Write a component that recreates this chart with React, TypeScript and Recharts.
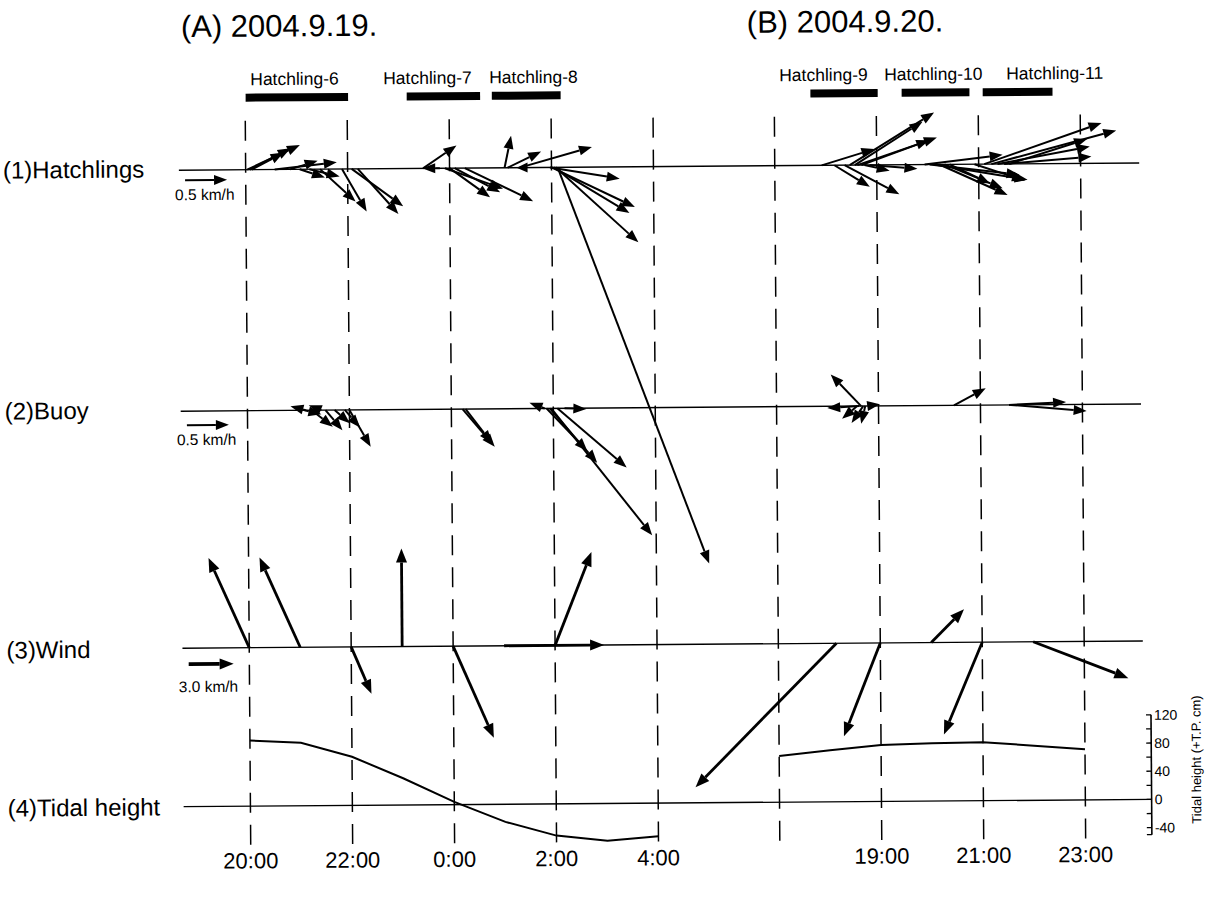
import { ComposedChart, Line, XAxis, YAxis, ReferenceLine, ReferenceArea } from "recharts";

const W = 1210;
const H = 903;
const FONT = '"Liberation Sans", Arial, Helvetica, sans-serif';

// shared time axis: hours after 20:00 on 9/19, panel (B) starts after a gap
const B_OFFSET = 10.38;
const X_MIN = -1.31;
const X_MAX = 17.68;
const LINE_END = 17.53;
const PX_PER_HOUR = 51;
const tA = (clock: number) => clock - 20;
const tB = (clock: number) => B_OFFSET + clock - 17;

// hidden vertical axis of the vector panels (1 unit = 1 px)
const Y_MAX = 735;
const HATCH_LEVEL = 675;
const BUOY_LEVEL = 434;
const WIND_LEVEL = 197;
const CURRENT_SCALE = 84; // px per km/h
const WIND_SCALE = 15;

type Vec = [number, number, number]; // [clock hour, east km/h, north km/h]

const HATCH_A: Vec[] = [
  [20.03, 0.63, 0.29], [20.08, 0.49, 0.25], [20.12, 0.38, 0.2], [20.57, 0.74, 0.08],
  [20.87, 0.33, 0.1], [21.06, 0.3, -0.1], [21.25, 0.36, -0.09], [21.46, 0.42, -0.39],
  [21.89, 0.29, -0.51], [22.08, 0.61, -0.45], [22.2, 0.48, -0.54],
  [23.48, 0.4, 0.27], [23.81, -0.21, 0], [23.91, 0.69, -0.25], [24.0, 0.48, -0.35],
  [24.1, 0.54, -0.29], [24.3, 0.81, -0.4],
  [25.08, 0.08, 0.38], [25.14, 0.4, 0.19], [25.38, 0.86, 0.24], [25.53, -0.13, 0],
  [25.97, 0.83, -0.14], [26.0, 0.99, -0.48], [26.04, 0.9, -0.55], [26.08, 0.98, -0.9],
  [26.12, 1.77, -4.73],
];
const HATCH_B: Vec[] = [
  [17.92, 0.63, 0.19], [18.17, 0.42, -0.26], [18.37, 0.65, -0.35], [18.47, 1.01, 0.62],
  [18.57, 0.81, 0.51], [18.62, 0.95, 0.32], [18.7, 0.81, 0.29], [18.76, 0.3, -0.07],
  [18.86, 0.57, -0.05],
  [19.94, 0.93, 0.11], [20.04, 1.07, -0.13], [20.13, 1.11, -0.19], [20.23, 0.81, -0.37],
  [20.33, 0.69, -0.29], [20.43, 0.48, -0.23], [20.92, 0.6, -0.2],
  [21.11, 1.4, 0.48], [21.25, 1.49, 0.39], [21.37, 1.1, 0.2], [21.5, 1.04, 0.08],
  [21.6, 0.93, 0.29],
];
const BUOY_A: Vec[] = [
  [21.12, 0.2, -0.05], [21.14, -0.18, 0.05], [21.26, 0.25, -0.2], [21.45, -0.15, 0.06],
  [21.53, 0.2, -0.24], [21.71, 0.18, -0.16], [21.91, 0.18, -0.21], [22.0, 0.25, -0.44],
  [24.22, 0.38, -0.45], [24.28, 0.31, -0.41],
  [25.83, -0.18, 0.07], [25.87, 0.48, -0.51], [25.93, 0.56, -0.65], [25.96, 1.19, -1.52],
  [26.08, 0.82, -0.71], [26.22, 0.26, -0.01],
];
const BUOY_B: Vec[] = [
  [18.58, -0.18, -0.15], [18.62, -0.38, -0.02], [18.66, -0.36, 0.38], [18.7, -0.14, -0.2],
  [18.74, -0.05, -0.21], [18.78, 0.15, 0.02],
  [20.48, 0.38, 0.2], [21.56, 0.68, 0.03], [21.6, 0.9, -0.08],
];
const WIND_A: Vec[] = [
  [20, -2.67, 6.0], [21, -2.67, 6.0], [22, 1.33, -3.13], [23, 0, 6.53],
  [24, 2.67, -6.13], [25, 6.67, 0], [26, 2.47, 6.2],
];
const WIND_B: Vec[] = [
  [18.14, -9.47, -9.53], [19, -2.47, -6.2], [20, 2.2, 2.2], [21, -2.6, -6.13], [22, 6.33, -2.47],
];

// tidal height (cm, T.P.)
const TIDE_A_CLOCK = [20, 21, 22, 23, 24, 25, 26, 27, 28];
const TIDE_A = [93, 89.5, 69, 38, 4, -25, -45, -53, -47];
const TIDE_B_CLOCK = [17, 18, 19, 20, 21, 22, 23];
const TIDE_B = [65.5, 73, 80, 82, 83, 77.5, 72];
const TIDE_TICKS = [-50, -40, -20, 0, 20, 40, 60, 80, 100, 120];
const TIDE_LABELLED = [-40, 0, 40, 80, 120];

// tracking periods
const BAR_NAMES_A = ["Hatchling-6", "Hatchling-7", "Hatchling-8"];
const BAR_FROM_A = [20.01, 23.17, 24.84];
const BAR_TO_A = [22.02, 24.61, 26.19];
const BAR_LABEL_X_A = [253, 386, 492];
const BAR_NAMES_B = ["Hatchling-9", "Hatchling-10", "Hatchling-11"];
const BAR_FROM_B = [17.71, 19.5, 21.09];
const BAR_TO_B = [19.03, 20.83, 22.46];
const BAR_LABEL_X_B = [782, 887, 1009];

const DASH_CLOCK_A = [20, 22, 24, 26, 28];
const DASH_CLOCK_B = [17, 19, 21, 23];
const TICK_CLOCK_A = [20, 22, 24, 26, 28];
const TICK_CLOCK_B = [19, 21, 23];
const TICK_LABELS = ["20:00", "22:00", "0:00", "2:00", "4:00", "19:00", "21:00", "23:00"];

const REF_T = -1.19;
const REF_CURRENT = 0.5;
const REF_WIND = 3.0;

const xTicks = [...TICK_CLOCK_A.map(tA), ...TICK_CLOCK_B.map(tB)];
const dashes = [...DASH_CLOCK_A.map(tA), ...DASH_CLOCK_B.map(tB)];

const seg = (t: number, level: number, e: number, n: number, scale: number) => [
  { x: t, y: level },
  { x: t + (e * scale) / PX_PER_HOUR, y: level + n * scale },
];

const arrowShape = (w: number, head: number, half: number) => (p: any) => {
  const { x1, y1, x2, y2 } = p;
  const dx = x2 - x1;
  const dy = y2 - y1;
  const len = Math.hypot(dx, dy) || 1;
  const ux = dx / len;
  const uy = dy / len;
  const hl = Math.min(head, len);
  const bx = x2 - ux * hl;
  const by = y2 - uy * hl;
  return (
    <g>
      <line x1={x1} y1={y1} x2={bx} y2={by} stroke="#000" strokeWidth={w} />
      <polygon
        points={`${x2},${y2} ${bx - uy * half},${by + ux * half} ${bx + uy * half},${by - ux * half}`}
        fill="#000"
      />
    </g>
  );
};

const currentArrow = arrowShape(2, 13, 5);
const windArrow = arrowShape(2.8, 14, 5.5);

const arrows = (list: Vec[], toT: (c: number) => number, level: number, scale: number, key: string, shape: any) =>
  list.map(([c, e, n], i) => (
    <ReferenceLine
      key={`${key}-${i}`}
      segment={seg(toT(c), level, e, n, scale)}
      ifOverflow="visible"
      shape={shape}
    />
  ));

const tideA = TIDE_A_CLOCK.map((c, i) => ({ x: tA(c), h: TIDE_A[i] }));
const tideB = TIDE_B_CLOCK.map((c, i) => ({ x: tB(c), h: TIDE_B[i] }));

const txt = { fontFamily: FONT, fill: "#000" };

export default function App() {
  return (
    <div
      style={{
        position: "absolute",
        left: 0,
        top: 0,
        width: W,
        height: H,
        background: "#fff",
        transform: "rotate(-0.43deg)",
      }}
    >
      <div style={{ position: "absolute", left: 0, top: 0 }}>
        <ComposedChart width={W} height={H} margin={{ top: 107, right: 61, bottom: 31, left: 181 }}>
          <XAxis
            type="number"
            dataKey="x"
            domain={[X_MIN, X_MAX]}
            allowDataOverflow
            ticks={xTicks}
            interval={0}
            tickFormatter={(v: number) => TICK_LABELS[xTicks.indexOf(v)] ?? ""}
            axisLine={false}
            tickLine={false}
            tickSize={0}
            tickMargin={8}
            height={30}
            tick={{ fontSize: 22, fill: "#000", fontFamily: FONT }}
          />
          <YAxis type="number" domain={[0, Y_MAX]} allowDataOverflow hide />

          {dashes.map((t, i) => (
            <ReferenceLine key={`d${i}`} x={t} stroke="#000" strokeWidth={1.5} strokeDasharray="20 12" />
          ))}

          {[HATCH_LEVEL, BUOY_LEVEL, WIND_LEVEL].map((lv) => (
            <ReferenceLine
              key={`b${lv}`}
              segment={[{ x: X_MIN, y: lv }, { x: LINE_END, y: lv }]}
              stroke="#000"
              strokeWidth={1.4}
            />
          ))}

          {BAR_NAMES_A.map((n, i) => (
            <ReferenceArea key={n} x1={tA(BAR_FROM_A[i])} x2={tA(BAR_TO_A[i])} y1={743} y2={751} fill="#000" fillOpacity={1} stroke="none" ifOverflow="visible" />
          ))}
          {BAR_NAMES_B.map((n, i) => (
            <ReferenceArea key={n} x1={tB(BAR_FROM_B[i])} x2={tB(BAR_TO_B[i])} y1={743} y2={751} fill="#000" fillOpacity={1} stroke="none" ifOverflow="visible" />
          ))}

          {arrows(HATCH_A, tA, HATCH_LEVEL, CURRENT_SCALE, "ha", currentArrow)}
          {arrows(HATCH_B, tB, HATCH_LEVEL, CURRENT_SCALE, "hb", currentArrow)}
          {arrows(BUOY_A, tA, BUOY_LEVEL, CURRENT_SCALE, "ba", currentArrow)}
          {arrows(BUOY_B, tB, BUOY_LEVEL, CURRENT_SCALE, "bb", currentArrow)}
          {arrows(WIND_A, tA, WIND_LEVEL, WIND_SCALE, "wa", windArrow)}
          {arrows(WIND_B, tB, WIND_LEVEL, WIND_SCALE, "wb", windArrow)}

          <ReferenceLine segment={seg(REF_T, HATCH_LEVEL - 10, REF_CURRENT, 0, CURRENT_SCALE)} ifOverflow="visible" shape={currentArrow} />
          <ReferenceLine segment={seg(REF_T, BUOY_LEVEL - 14, REF_CURRENT, 0, CURRENT_SCALE)} ifOverflow="visible" shape={currentArrow} />
          <ReferenceLine segment={seg(REF_T, WIND_LEVEL - 16, REF_WIND, 0, WIND_SCALE)} ifOverflow="visible" shape={arrowShape(3.6, 14, 5.5)} />
        </ComposedChart>
      </div>

      <div style={{ position: "absolute", left: 0, top: 680 }}>
        <ComposedChart width={W} height={210} margin={{ top: 38.9, right: 0, bottom: 44.2, left: 181 }}>
          <XAxis type="number" dataKey="x" domain={[X_MIN, X_MAX]} allowDataOverflow hide />
          <YAxis
            yAxisId="tide"
            orientation="right"
            type="number"
            domain={[-60, 120]}
            allowDataOverflow
            ticks={TIDE_TICKS}
            interval={0}
            width={61}
            axisLine={false}
            tickLine={{ stroke: "#000", strokeWidth: 1.3 }}
            tickSize={-5}
            tickMargin={8}
            tickFormatter={(v: number) => (TIDE_LABELLED.includes(v) ? String(v) : "")}
            tick={{ fontSize: 14, fill: "#000", fontFamily: FONT }}
          />
          <ReferenceLine yAxisId="tide" segment={[{ x: X_MIN, y: 0 }, { x: X_MAX, y: 0 }]} stroke="#000" strokeWidth={1.4} />
          <ReferenceLine yAxisId="tide" segment={[{ x: X_MAX, y: -50 }, { x: X_MAX, y: 120 }]} stroke="#000" strokeWidth={1.6} />
          <Line yAxisId="tide" data={tideA} dataKey="h" stroke="#000" strokeWidth={2} dot={false} isAnimationActive={false} />
          <Line yAxisId="tide" data={tideB} dataKey="h" stroke="#000" strokeWidth={2} dot={false} isAnimationActive={false} />
        </ComposedChart>
      </div>

      <svg width={W} height={H} style={{ position: "absolute", left: 0, top: 0, pointerEvents: "none" }}>
        <text x={184} y={34} fontSize={31} {...txt}>(A) 2004.9.19.</text>
        <text x={750} y={34} fontSize={31} {...txt}>(B) 2004.9.20.</text>
        {BAR_NAMES_A.map((n, i) => (
          <text key={n} x={BAR_LABEL_X_A[i]} y={82.5} fontSize={17.5} {...txt}>{n}</text>
        ))}
        {BAR_NAMES_B.map((n, i) => (
          <text key={n} x={BAR_LABEL_X_B[i]} y={82.5} fontSize={17.5} {...txt}>{n}</text>
        ))}
        <text x={5} y={174} fontSize={24} {...txt}>(1)Hatchlings</text>
        <text x={5} y={415} fontSize={24} {...txt}>(2)Buoy</text>
        <text x={5} y={654} fontSize={24} {...txt}>(3)Wind</text>
        <text x={5} y={812} fontSize={24} {...txt}>(4)Tidal height</text>
        <text x={177} y={197} fontSize={15.5} {...txt}>0.5 km/h</text>
        <text x={177} y={442} fontSize={15.5} {...txt}>0.5 km/h</text>
        <text x={177} y={689} fontSize={15.5} {...txt}>3.0 km/h</text>
        <text
          x={1194}
          y={764}
          fontSize={13}
          textAnchor="middle"
          dominantBaseline="central"
          transform="rotate(-90 1194 764)"
          {...txt}
        >
          Tidal height (+T.P. cm)
        </text>
      </svg>
    </div>
  );
}
